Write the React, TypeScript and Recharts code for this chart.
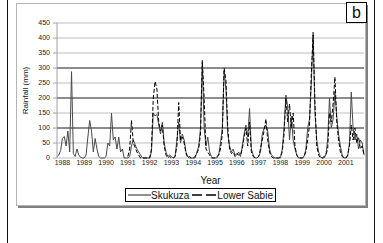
import React from "react";
import {
  LineChart,
  Line,
  XAxis,
  YAxis,
  CartesianGrid,
  ReferenceLine,
} from "recharts";

// monthly rainfall, starting April 1988
const startYear = 1988;
const startMonth = 4;

const skukuza: number[] = [
  5, 10, 25, 65, 72, 40, 90, 20, 288, 15,
  5, 30, 10, 2, 0, 0, 10, 70, 125, 90,
  20, 65, 30, 5, 0, 0, 0, 5, 50, 40,
  150, 60, 70, 30, 70, 20, 30, 0, 0, 0,
  5, 40, 60, 45, 30, 20, 10, 0, 0, 0,
  0, 0, 20, 150, 140, 145, 110, 80, 120, 50,
  20, 5, 10, 5, 0, 5, 60, 120, 50, 80,
  60, 20, 5, 0, 0, 0, 0, 20, 40, 100,
  320, 100, 40, 70, 20, 5, 0, 0, 0, 10,
  50, 100, 290, 230, 80, 40, 20, 30, 10, 10,
  20, 5, 40, 80, 110, 70, 165, 30, 10, 0,
  0, 5, 20, 80, 100, 110, 90, 30, 10, 5,
  0, 0, 0, 0, 30, 100, 210, 170, 60, 140,
  60, 30, 10, 0, 0, 0, 5, 30, 100, 130,
  250, 420, 150, 60, 20, 5, 0, 0, 10, 60,
  200, 100, 130, 220, 140, 80, 40, 10, 0, 0,
  5, 50, 220, 100, 60, 80, 30, 60, 50, 10,
];

const lowerSabie: (number | null)[] = [
  null, null, null, null, null, null, null, null, null, null,
  null, null, null, null, null, null, null, null, null, null,
  null, null, null, null, null, null, null, null, null, null,
  null, null, null, null, null, null, null, null, null, 5,
  30, 125, 50, 35, 20, 10, 0, 0, 0, 0,
  0, 0, 30, 200, 255, 230, 120, 90, 110, 40,
  10, 0, 5, 0, 0, 5, 40, 185, 60, 70,
  50, 15, 0, 5, 0, 0, 5, 15, 30, 80,
  325, 200, 30, 20, 10, 0, 0, 0, 5, 10,
  30, 80, 300, 260, 100, 30, 15, 20, 5, 15,
  10, 10, 30, 70, 100, 40, 120, 20, 5, 0,
  0, 5, 30, 60, 90, 130, 60, 20, 5, 0,
  0, 0, 0, 5, 20, 80, 200, 120, 180, 100,
  150, 40, 10, 0, 0, 0, 5, 20, 60, 110,
  280, 410, 180, 40, 10, 0, 0, 5, 10, 30,
  150, 120, 180, 270, 120, 60, 20, 5, 0, 0,
  10, 40, 110, 60, 100, 50, 70, 30, 40, 10,
];

const years = [
  "1988", "1989", "1990", "1991", "1992", "1993", "1994",
  "1995", "1996", "1997", "1998", "1999", "2000", "2001",
];

const yTicks = [0, 50, 100, 150, 200, 250, 300, 350, 400, 450];
const darkLines = [100, 200, 300];

const monthLabel = (i: number) => {
  const m = startMonth - 1 + i;
  const y = startYear + Math.floor(m / 12);
  const mm = (m % 12) + 1;
  return `${y}-${mm < 10 ? "0" + mm : mm}`;
};

const data = skukuza.map((v, i) => ({
  month: monthLabel(i),
  skukuza: v,
  lowerSabie: lowerSabie[i],
}));

const FONT = "'Liberation Sans', Arial, sans-serif";

const LegendBox = () => (
  <div
    style={{
      position: "absolute",
      left: 125,
      top: 188,
      width: 147,
      height: 12,
      border: "1px solid #000",
      display: "flex",
      alignItems: "center",
      fontFamily: FONT,
      fontSize: 10,
      color: "#111",
      background: "#fff",
      whiteSpace: "nowrap",
      paddingLeft: 2,
      boxSizing: "content-box",
    }}
  >
    <svg width={23} height={6}>
      <line x1={0} y1={3} x2={23} y2={3} stroke="#222" strokeWidth={1} />
    </svg>
    <span>Skukuza</span>
    <svg width={25} height={6} style={{ marginLeft: 3 }}>
      <line
        x1={0}
        y1={3}
        x2={25}
        y2={3}
        stroke="#000"
        strokeWidth={1.5}
        strokeDasharray="10 4"
      />
    </svg>
    <span>Lower Sabie</span>
  </div>
);

export default function App() {
  return (
    <div
      style={{
        position: "absolute",
        left: 0,
        top: 0,
        width: 383,
        height: 243,
        background: "#fff",
        overflow: "hidden",
      }}
    >
      {/* outer table lines */}
      <div style={{ position: "absolute", left: 7, top: 0, width: 1, height: 243, background: "#111" }} />
      <div style={{ position: "absolute", left: 374, top: 0, width: 1, height: 243, background: "#111" }} />
      {/* chart box */}
      <div
        style={{
          position: "absolute",
          left: 16,
          top: 3,
          width: 348,
          height: 201,
          border: "1px solid #b5b5b5",
          boxShadow: "2px 2px 0 #808080",
        }}
      />
      <div style={{ position: "absolute", left: 0, top: 0 }}>
        <LineChart
          width={383}
          height={243}
          data={data}
          margin={{ top: 23, right: 19, left: 17, bottom: 59 }}
        >
          <CartesianGrid
            horizontal
            vertical={false}
            stroke="#bdbdbd"
            strokeWidth={1}
          />
          {darkLines.map((v) => (
            <ReferenceLine key={v} y={v} stroke="#3a3a3a" strokeWidth={1} />
          ))}
          <XAxis
            dataKey="month"
            ticks={years.map((y) => `${y}-07`)}
            interval={0}
            tickFormatter={(v: string) => v.slice(0, 4)}
            axisLine={false}
            tickLine={false}
            tickSize={0}
            tickMargin={2}
            height={26}
            tick={{ fontSize: 7, fill: "#222", fontFamily: FONT }}
            label={{
              value: "Year",
              position: "insideBottom",
              offset: 0,
              style: { fontSize: 10, fill: "#111", fontFamily: FONT },
            }}
          />
          <YAxis
            domain={[0, 450]}
            ticks={yTicks}
            interval={0}
            width={40}
            axisLine={{ stroke: "#a0a0a0" }}
            tickLine={{ stroke: "#a0a0a0" }}
            tickSize={4}
            tickMargin={3}
            tick={{ fontSize: 7, fill: "#222", fontFamily: FONT }}
            label={{
              value: "Rainfall (mm)",
              angle: -90,
              position: "insideLeft",
              offset: 8,
              style: { fontSize: 8, fill: "#111", fontFamily: FONT, textAnchor: "middle" },
            }}
          />
          <Line
            type="linear"
            dataKey="skukuza"
            name="Skukuza"
            stroke="#4a4a4a"
            strokeWidth={1}
            dot={false}
            isAnimationActive={false}
          />
          <Line
            type="linear"
            dataKey="lowerSabie"
            name="Lower Sabie"
            stroke="#000"
            strokeWidth={1}
            strokeDasharray="4 2"
            dot={false}
            connectNulls={false}
            isAnimationActive={false}
          />
        </LineChart>
      </div>
      <LegendBox />
      {/* panel letter */}
      <div
        style={{
          position: "absolute",
          left: 346,
          top: 2,
          width: 19,
          height: 19,
          border: "1px solid #000",
          background: "#fff",
          fontFamily: FONT,
          fontSize: 16,
          lineHeight: "19px",
          textAlign: "center",
          color: "#111",
        }}
      >
        b
      </div>
    </div>
  );
}
